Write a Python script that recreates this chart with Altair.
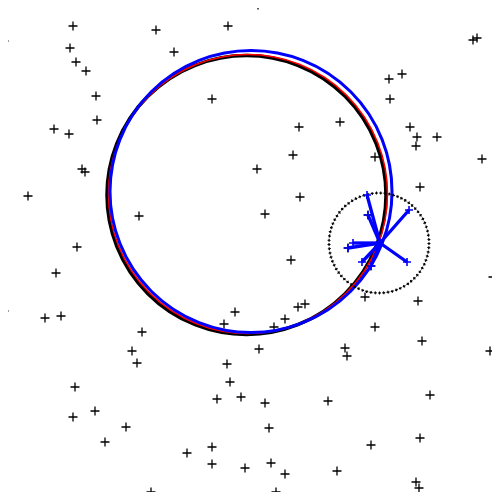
import altair as alt
import pandas as pd

# scattered points (image pixel coordinates)
px = [13, 73, 4, 70, 76, 86, 156, 228, 174, 96, 212, 97, 54, 69, 82, 85, 28, 1, 139, 77,
      258, 497, 473, 477, 389, 402, 390, 299, 340, 410, 417, 437, 416, 293, 375, 482, 257, 420, 300, 265,
      56, 4, 45, 61, 235, 224, 142, 132, 137, 227, 230, 75, 217, 241, 95, 73, 126, 105, 187, 212, 212, 1, 245, 151, 59,
      291, 493, 365, 418, 298, 305, 285, 274, 375, 259, 345, 347, 422, 490, 430, 265, 328, 269, 420, 371, 271, 285, 337, 416, 419, 276,
      348, 368, 371]
py = [3, 26, 41, 48, 62, 71, 30, 26, 52, 96, 99, 120, 129, 134, 169, 172, 196, 218, 216, 247,
      5, 2, 40, 38, 79, 74, 99, 127, 122, 127, 137, 137, 146, 155, 157, 159, 169, 187, 197, 214,
      273, 311, 318, 316, 312, 324, 332, 351, 363, 364, 382, 387, 399, 397, 411, 417, 427, 442, 453, 447, 464, 469, 468, 492, 497,
      260, 277, 297, 301, 307, 304, 319, 327, 327, 349, 348, 356, 341, 351, 395, 403, 401, 428, 438, 445, 463, 474, 471, 482, 488, 492,
      248, 215, 266]

# fitted circles: centre x, centre y, radius, colour, width
circ_name = ["black", "red", "blue"]
circ_cx = [246.5, 248, 251]
circ_cy = [195, 194, 191.5]
circ_r = [139.5, 139.5, 141]
circ_w = [3.5, 1.5, 3]

# local neighbourhood circle
nb_cx, nb_cy, nb_r = 379, 243, 50

# star: centre and end points of blue segments
star_cx, star_cy = 380, 243
end_x = [367, 409, 368, 353, 348, 362, 407, 371]
end_y = [195, 210, 215, 243, 248, 262, 262, 266]

X = alt.Scale(domain=[8, 492], nice=False, zero=False)
Y = alt.Scale(domain=[8, 492], nice=False, zero=False, reverse=True)
plus = "M-1,0H1M0,-1V1"

pts = pd.DataFrame({"x": px, "y": py})
points = alt.Chart(pts).mark_point(shape=plus, filled=False, color="black", strokeWidth=1.3, size=81, opacity=1).encode(
    x=alt.X("x:Q", scale=X, axis=None), y=alt.Y("y:Q", scale=Y, axis=None))

layers = [points]
for n, cx, cy, r, w in zip(circ_name, circ_cx, circ_cy, circ_r, circ_w):
    d = pd.DataFrame({"x": [cx], "y": [cy], "s": [(2 * r) ** 2]})
    layers.append(alt.Chart(d).mark_point(shape="circle", filled=False, color=n, strokeWidth=w, opacity=1).encode(
        x=alt.X("x:Q", scale=X, axis=None), y=alt.Y("y:Q", scale=Y, axis=None),
        size=alt.Size("s:Q", scale=None, legend=None)))

nb = pd.DataFrame({"x": [nb_cx], "y": [nb_cy], "s": [(2 * nb_r) ** 2]})
for dash, off, w in [([1, 3.3], 0, 3), ([3, 1.3], 1, 1.2)]:
    layers.append(alt.Chart(nb).mark_point(shape="circle", filled=False, color="black", strokeWidth=w,
                                          strokeDash=dash, strokeDashOffset=off, opacity=1).encode(
        x=alt.X("x:Q", scale=X, axis=None), y=alt.Y("y:Q", scale=Y, axis=None),
        size=alt.Size("s:Q", scale=None, legend=None)))

seg = pd.DataFrame({"x": [star_cx] * len(end_x), "y": [star_cy] * len(end_y), "x2": end_x, "y2": end_y})
layers.append(alt.Chart(seg).mark_rule(color="blue", strokeWidth=3.3).encode(
    x=alt.X("x:Q", scale=X, axis=None), y=alt.Y("y:Q", scale=Y, axis=None), x2="x2:Q", y2="y2:Q"))
layers.append(alt.Chart(seg).mark_point(shape=plus, filled=False, color="blue", strokeWidth=1.6, size=64, opacity=1).encode(
    x=alt.X("x2:Q", scale=X, axis=None), y=alt.Y("y2:Q", scale=Y, axis=None)))

chart = alt.layer(*layers).properties(width=484, height=484, padding=0, autosize="none").configure_view(stroke=None)
chart.save("out.html", embed_options={"renderer": "svg", "actions": False})
